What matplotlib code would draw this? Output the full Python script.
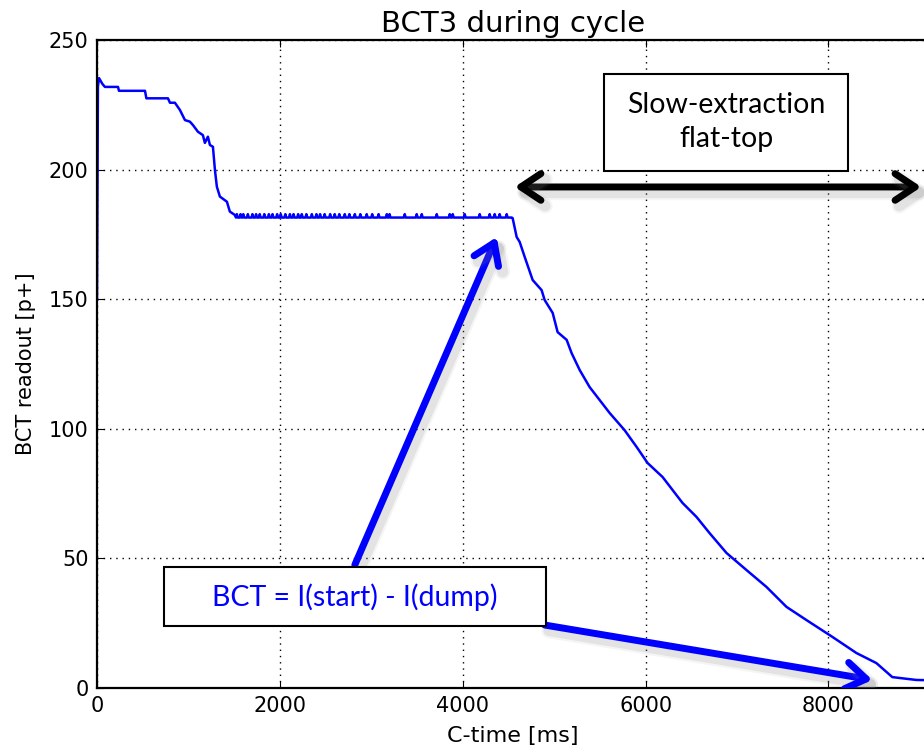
import numpy as np
import matplotlib.pyplot as plt
from matplotlib.patches import FancyArrowPatch, Rectangle
import matplotlib.patheffects as pe

# BCT3 readout along the cycle (C-time in ms, readout in p+)
t_ramp = [0, 10, 22, 60, 87, 230, 240, 525, 540, 776]
v_ramp = [150, 232, 235.3, 233, 231.9, 231.9, 230.4, 230.4, 227.5, 227.5]

t_drop = [798, 852, 907, 962, 1016, 1049, 1104, 1158, 1180, 1213, 1235, 1268, 1290,
          1311, 1344, 1421, 1453, 1508]
v_drop = [225.8, 225.8, 223, 219.1, 218.5, 217.2, 214.6, 213.3, 210.3, 212.7, 209.5,
          208.8, 199.8, 193.4, 189.6, 187.6, 183.8, 182.5]

plateau_level = 181.5
plateau_end = 4536
blip_level = 182.8
blip_times = [1530, 1570, 1600, 1650, 1700, 1740, 1780, 1830, 1880, 1920, 1970, 2010,
              2060, 2110, 2150, 2200, 2240, 2290, 2350, 2400, 2440, 2490, 2550, 2600,
              2650, 2710, 2760, 2820, 2880, 2950, 3010, 3080, 3170, 3200, 3366, 3497,
              3552, 3716, 3858, 3891, 4022, 4186, 4295, 4350, 4404, 4481]

t_decay = [4546, 4590, 4623, 4678, 4765, 4863, 4896, 4984, 5038, 5137, 5191, 5279,
           5388, 5497, 5607, 5770, 5902, 6022, 6186, 6295, 6404, 6514, 6557, 6699,
           6885, 7104, 7322, 7541, 7760, 8044, 8306, 8525, 8699, 8962, 9100]
v_decay = [181.3, 174.0, 172.1, 166.3, 157.4, 153.5, 149.7, 144.7, 137.3, 134.3, 129.2, 122.7,
           116.1, 111.1, 106.1, 99.5, 93.0, 86.8, 81.4, 76.4, 71.4, 67.5, 66.0, 59.8,
           52.1, 45.5, 39.0, 31.3, 26.2, 19.7, 13.5, 9.6, 4.2, 3.1, 3.0]

# plateau with its small upward blips
t_plat, v_plat = [], []
for tb in blip_times:
    t_plat += [tb - 10, tb, tb + 10]
    v_plat += [plateau_level, blip_level, plateau_level]
t_plat = t_plat + [plateau_end]
v_plat = v_plat + [plateau_level]

t = np.array(t_ramp + t_drop + t_plat + t_decay)
v = np.array(v_ramp + v_drop + v_plat + v_decay)

fig = plt.figure(figsize=(9.24, 7.48), dpi=100)
ax = fig.add_axes([97 / 924, 60 / 748, 832 / 924, 648 / 748])

ax.plot(t, v, color='blue', lw=1.8)

ax.set_xlim(0, 9100)
ax.set_ylim(0, 250)
ax.set_xticks([0, 2000, 4000, 6000, 8000])
ax.set_yticks([0, 50, 100, 150, 200, 250])
ax.grid(True, color='black', linestyle=(0, (1, 3.5)), linewidth=1.0)
ax.tick_params(direction='in', length=5, labelsize=15, top=True, right=True, pad=6)
for s in ax.spines.values():
    s.set_linewidth(1.6)

ax.set_title('BCT3 during cycle', fontsize=21, pad=6)
ax.set_xlabel('C-time [ms]', fontsize=16, labelpad=7)
ax.set_ylabel('BCT readout [p+]', fontsize=15, labelpad=9)

shadow = [pe.Stroke(linewidth=11, foreground='gray', alpha=0.08, offset=(3, -4)),
          pe.Stroke(linewidth=8, foreground='gray', alpha=0.15, offset=(3, -4)),
          pe.Normal()]

# flat-top span
flat = FancyArrowPatch((4568, 193.3), (9016, 193.3), arrowstyle='<->,head_length=9,head_width=6',
                       color='black', lw=5, mutation_scale=1.6, clip_on=False,
                       shrinkA=0, shrinkB=0, zorder=5)
flat.set_path_effects(shadow)
ax.add_patch(flat)

box1 = Rectangle(((604 - 97) / 832, (688 - 171) / 648), 244 / 832, 97 / 648,
                 transform=ax.transAxes, facecolor='white', edgecolor='black', lw=1.5, zorder=6)
ax.add_patch(box1)
ax.text((726 - 97) / 832, (688 - 122) / 648, 'Slow-extraction\nflat-top', transform=ax.transAxes,
        ha='center', va='center', fontsize=20.5, family='Lato', linespacing=1.35, zorder=7)

# blue pointers to start and dump levels
for tail, head in [((2820, 47.5), (4372, 174)), ((4896, 24.3), (8481, 3.1))]:
    arr = FancyArrowPatch(tail, head, arrowstyle='->,head_length=9,head_width=6',
                          color='blue', lw=5, mutation_scale=1.6, shrinkA=0, shrinkB=0, zorder=5)
    arr.set_path_effects(shadow)
    ax.add_patch(arr)

box2 = Rectangle(((164 - 97) / 832, (688 - 626) / 648), 382 / 832, 59 / 648,
                 transform=ax.transAxes, facecolor='white', edgecolor='black', lw=1.5, zorder=6)
ax.add_patch(box2)
ax.text((355 - 97) / 832, (688 - 597) / 648, 'BCT = I(start) - I(dump)', transform=ax.transAxes,
        ha='center', va='center', fontsize=20.5, family='Lato', color='blue', zorder=7)

fig.savefig('out.png', dpi=100)
